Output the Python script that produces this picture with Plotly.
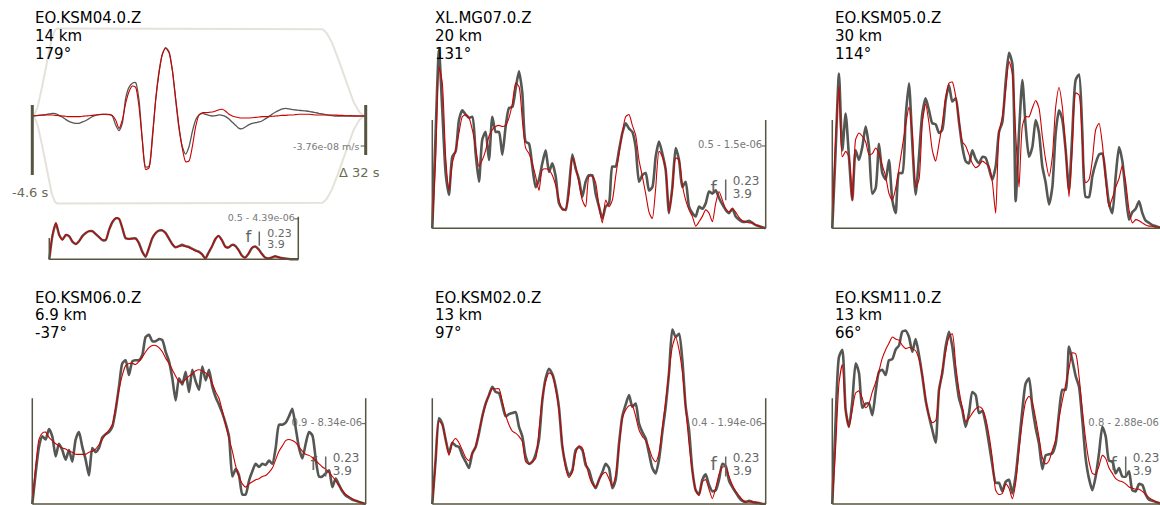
import numpy as np
import plotly.graph_objects as go

W, H = 1160, 505
FONT = "DejaVu Sans"

# ---------------------------------------------------------------- data
# fitted frequency band (Hz)
F_LO, F_HI = 0.23, 3.9

# station header lines
STATIONS = ["EO.KSM04.0.Z", "XL.MG07.0.Z", "EO.KSM05.0.Z",
            "EO.KSM06.0.Z", "EO.KSM02.0.Z", "EO.KSM11.0.Z"]
DISTANCES = ["14 km", "20 km", "30 km", "6.9 km", "13 km", "13 km"]
AZIMUTHS = ["179°", "131°", "114°", "-37°", "97°", "66°"]
# weight - normalisation labels (None: not shown)
NORM_LABELS = ["0.5 - 4.39e-06", "0.5 - 1.5e-06", None,
               "0.9 - 8.34e-06", "0.4 - 1.94e-06", "0.8 - 2.88e-06"]

# KSM04 time-domain window: start, duration (s), taper corners (s)
T_START, T_DUR = -4.6, 32.0
TAPER_CORNERS = [-4.6, -2.2, 23.0, 27.4]
TAPER_LEVEL = 10.96          # 1e-8 m/s
TRACE_TICK = -3.76           # 1e-8 m/s
BAR_LEFT = [1.38, -7.39]
BAR_RIGHT = [1.38, -4.89]

# KSM04 velocity traces (1e-8 m/s), evenly sampled over the window
ksm04_obs_trace = [
    0, 0.04, 0.08, 0.13, 0.17, 0.25, 0.33, 0.29, 0.08, -0.13,
    -0.42, -0.67, -0.84, -0.92, -0.92, -0.75, -0.59, -0.33, -0.08, 0.08,
    0.17, 0.21, 0.21, 0.17, 0.00, -1.13, -1.84, -0.92, 2.22, 3.59,
    4.10, 4.18, 2.01, -3.01, -6.40, -6.30, -2.59, 2.01, 5.56, 7.73,
    8.57, 8.07, 5.77, 2.01, -1.55, -3.85, -4.77, -3.85, -1.96, -0.50,
    0.13, 0.33, 0.21, 0.08, 0.00, 0.04, 0.13, 0.08, -0.08, -0.38,
    -0.79, -1.17, -1.55, -1.59, -1.34, -1.09, -0.92, -0.84, -0.75, -0.59,
    -0.33, -0.08, 0.25, 0.50, 0.71, 0.88, 0.96, 0.88, 0.79, 0.75,
    0.71, 0.67, 0.63, 0.59, 0.50, 0.42, 0.33, 0.25, 0.17, 0.08,
    0.04, 0, 0, 0, 0, 0, 0, 0, 0, 0, 0]
ksm04_syn_trace = [
    0, 0.04, 0.08, 0.10, 0.13, 0.13, 0.13, 0.08, 0.04, 0.00,
    -0.04, -0.08, -0.08, -0.08, -0.08, -0.04, 0.00, 0.04, 0.08, 0.13,
    0.17, 0.21, 0.21, 0.21, 0.08, -0.50, -1.55, -0.50, 1.59, 3.05,
    3.76, 3.59, 1.17, -3.01, -6.70, -6.50, -3.01, 2.01, 5.35, 7.73,
    8.49, 7.94, 5.77, 2.22, -1.34, -4.06, -5.73, -5.64, -3.85, -1.34,
    0.13, 0.42, 0.42, 0.46, 0.50, 0.63, 0.79, 0.84, 0.59, 0.21,
    0.00, -0.13, -0.21, -0.25, -0.25, -0.25, -0.21, -0.17, -0.13, -0.08,
    -0.08, -0.04, -0.04, 0.00, 0.04, 0.08, 0.08, 0.13, 0.13, 0.17,
    0.21, 0.21, 0.21, 0.21, 0.17, 0.13, 0.13, 0.13, 0.13, 0.13,
    0.13, 0.13, 0.08, 0.08, 0.04, 0.04, 0.04, 0.00, 0, 0, 0]

# amplitude spectra (normalised), evenly sampled over F_LO..F_HI
ksm04_obs_spec = [
    0, 0.57, 0.84, 0.57, 0.47, 0.57, 0.54, 0.41, 0.36, 0.43,
    0.55, 0.62, 0.66, 0.66, 0.59, 0.52, 0.45, 0.45, 0.69, 0.87,
    0.96, 0.95, 0.73, 0.49, 0.48, 0.49, 0.49, 0.38, 0.18, 0.06,
    0.26, 0.49, 0.61, 0.67, 0.68, 0.62, 0.49, 0.36, 0.28, 0.31,
    0.34, 0.31, 0.29, 0.25, 0.21, 0.18, 0.12, 0.02, 0.16, 0.30,
    0.47, 0.55, 0.45, 0.30, 0.28, 0.34, 0.32, 0.22, 0.09, 0.04,
    0.13, 0.26, 0.30, 0.24, 0.13, 0.04, 0.02, 0.04, 0.07, 0.05,
    0.03, 0.02, 0.01, 0.00, 0.00, 0]
ksm04_syn_spec = [
    0, 0.60, 0.86, 0.56, 0.45, 0.58, 0.55, 0.42, 0.36, 0.42,
    0.54, 0.62, 0.66, 0.65, 0.59, 0.52, 0.46, 0.46, 0.69, 0.88,
    0.97, 0.95, 0.74, 0.50, 0.48, 0.48, 0.48, 0.37, 0.17, 0.07,
    0.27, 0.50, 0.62, 0.68, 0.68, 0.62, 0.49, 0.36, 0.29, 0.30,
    0.32, 0.30, 0.28, 0.24, 0.20, 0.17, 0.11, 0.02, 0.16, 0.31,
    0.48, 0.55, 0.44, 0.29, 0.27, 0.33, 0.31, 0.21, 0.08, 0.04,
    0.14, 0.27, 0.30, 0.23, 0.12, 0.04, 0.02, 0.05, 0.07, 0.05,
    0.03, 0.02, 0.01, 0.00, 0.00, 0]

mg07_obs = [
    0, 0.88, 1.65, 1.09, 0.51, 0.31, 0.66, 0.71, 1.00, 1.09,
    1.05, 1.02, 1.03, 0.69, 0.43, 0.82, 0.89, 0.63, 1.03, 0.89,
    0.89, 0.68, 0.94, 1.11, 1.12, 1.29, 1.45, 1.25, 0.80, 0.78,
    0.57, 0.38, 0.45, 0.60, 0.72, 0.52, 0.60, 0.48, 0.23, 0.18,
    0.17, 0.38, 0.68, 0.55, 0.45, 0.29, 0.43, 0.49, 0.49, 0.32,
    0.20, 0.09, 0.20, 0.23, 0.57, 0.57, 0.72, 0.88, 0.97, 0.92,
    0.89, 0.75, 0.43, 0.49, 0.51, 0.35, 0.38, 0.66, 0.80, 0.69,
    0.54, 0.14, 0.38, 0.74, 0.63, 0.38, 0.43, 0.20, 0.14, 0.11,
    0.20, 0.18, 0.23, 0.34, 0.32, 0.35, 0.28, 0.22, 0.17, 0.14,
    0.18, 0.11, 0.08, 0.06, 0.06, 0.07, 0.05, 0.03, 0.02, 0.01, 0]
mg07_syn = [
    0, 0.63, 1.49, 1.34, 0.66, 0.35, 0.60, 0.72, 0.88, 1.03,
    1.05, 1.02, 0.91, 0.75, 0.57, 0.63, 0.72, 0.85, 0.91, 0.94,
    0.95, 0.94, 0.95, 1.02, 1.15, 1.34, 1.31, 1.00, 0.74, 0.69,
    0.60, 0.48, 0.35, 0.54, 0.55, 0.54, 0.49, 0.40, 0.26, 0.17,
    0.18, 0.32, 0.65, 0.57, 0.42, 0.26, 0.20, 0.48, 0.48, 0.42,
    0.20, 0.05, 0.26, 0.20, 0.26, 0.48, 0.69, 0.88, 1.03, 1.05,
    0.95, 0.86, 0.63, 0.48, 0.32, 0.15, 0.09, 0.37, 0.71, 0.66,
    0.55, 0.15, 0.35, 0.65, 0.63, 0.40, 0.26, 0.17, 0.11, 0.02,
    0.06, 0.11, 0.17, 0.14, 0.06, 0.23, 0.34, 0.26, 0.18, 0.15,
    0.18, 0.15, 0.10, 0.07, 0.06, 0.05, 0.05, 0.03, 0.02, 0.01, 0]

ksm05_obs = [
    0, 0.72, 1.43, 0.72, 1.06, 0.66, 0.26, 0.72, 0.63, 0.75,
    0.94, 0.75, 0.32, 0.37, 0.78, 0.51, 0.45, 0.63, 0.26, 0.14,
    0.51, 0.51, 1.03, 1.34, 0.78, 0.31, 0.66, 1.06, 1.20, 1.09,
    0.97, 0.96, 0.88, 0.91, 1.18, 1.32, 1.17, 1.20, 0.98, 0.75,
    0.62, 0.60, 0.72, 0.64, 0.60, 0.66, 0.65, 0.55, 0.45, 0.57,
    0.89, 0.98, 1.35, 1.62, 1.52, 0.25, 0.88, 1.37, 0.94, 0.66,
    0.75, 1.00, 0.88, 0.57, 0.42, 0.22, 0.38, 0.88, 1.09, 1.00,
    0.72, 0.35, 0.88, 1.37, 1.42, 0.88, 0.29, 0.29, 0.48, 0.60,
    0.68, 0.69, 0.48, 0.23, 0.14, 0.48, 0.75, 0.62, 0.32, 0.08,
    0.15, 0.18, 0.25, 0.14, 0.07, 0.05, 0.03, 0.02, 0.01, 0.00, 0]
ksm05_syn = [
    0, 0.82, 1.31, 0.66, 0.71, 0.66, 0.26, 0.82, 0.88, 0.85,
    0.80, 0.68, 0.69, 0.74, 0.69, 0.58, 0.48, 0.32, 0.26, 0.37,
    0.55, 0.75, 0.95, 1.12, 0.88, 0.38, 0.45, 0.97, 1.15, 0.97,
    0.72, 0.62, 0.78, 0.97, 1.20, 1.34, 1.35, 1.22, 1.00, 0.80,
    0.76, 0.68, 0.60, 0.56, 0.58, 0.62, 0.60, 0.57, 0.43, 0.14,
    0.88, 1.03, 1.28, 1.54, 1.43, 0.88, 0.38, 0.94, 1.03, 1.03,
    1.11, 1.18, 1.11, 0.85, 0.63, 0.48, 0.66, 1.12, 1.30, 1.12,
    0.72, 0.29, 0.75, 1.25, 1.23, 0.78, 0.42, 0.45, 0.63, 0.91,
    0.97, 0.78, 0.45, 0.20, 0.28, 0.38, 0.46, 0.58, 0.43, 0.17,
    0.05, 0.08, 0.07, 0.05, 0.03, 0.02, 0.02, 0.01, 0.01, 0.00, 0]

ksm06_obs = [
    0, 0.29, 0.54, 0.64, 0.61, 0.71, 0.64, 0.45, 0.57, 0.51,
    0.42, 0.51, 0.40, 0.61, 0.68, 0.54, 0.42, 0.27, 0.53, 0.49,
    0.53, 0.63, 0.66, 0.68, 0.73, 0.89, 1.11, 1.33, 1.36, 1.22,
    1.35, 1.36, 1.36, 1.41, 1.58, 1.60, 1.54, 1.54, 1.56, 1.55,
    1.44, 1.35, 1.19, 0.98, 1.19, 1.13, 1.25, 1.06, 1.27, 1.16,
    1.08, 1.30, 1.17, 1.27, 1.11, 1.01, 0.94, 0.86, 0.76, 0.64,
    0.26, 0.33, 0.27, 0.09, 0.09, 0.22, 0.31, 0.38, 0.35, 0.38,
    0.37, 0.41, 0.38, 0.53, 0.75, 0.75, 0.77, 0.83, 0.90, 0.72,
    0.53, 0.43, 0.57, 0.68, 0.65, 0.43, 0.26, 0.26, 0.29, 0.32,
    0.16, 0.24, 0.18, 0.12, 0.08, 0.06, 0.04, 0.03, 0.02, 0.01, 0]
ksm06_syn = [
    0, 0.35, 0.61, 0.67, 0.68, 0.63, 0.60, 0.57, 0.55, 0.53,
    0.52, 0.50, 0.49, 0.47, 0.47, 0.47, 0.47, 0.49, 0.50, 0.52,
    0.56, 0.61, 0.66, 0.70, 0.75, 0.91, 1.08, 1.22, 1.31, 1.33,
    1.33, 1.32, 1.35, 1.39, 1.44, 1.48, 1.50, 1.50, 1.48, 1.44,
    1.38, 1.33, 1.27, 1.21, 1.16, 1.15, 1.18, 1.21, 1.23, 1.26,
    1.27, 1.26, 1.24, 1.21, 1.14, 1.06, 1.00, 0.88, 0.75, 0.62,
    0.50, 0.36, 0.26, 0.19, 0.16, 0.19, 0.21, 0.23, 0.24, 0.26,
    0.27, 0.30, 0.34, 0.42, 0.50, 0.55, 0.60, 0.61, 0.60, 0.58,
    0.54, 0.50, 0.47, 0.46, 0.44, 0.41, 0.38, 0.35, 0.33, 0.30,
    0.26, 0.22, 0.17, 0.13, 0.09, 0.07, 0.05, 0.03, 0.02, 0.01, 0]

ksm02_obs = [
    0, 0.42, 0.81, 0.76, 0.61, 0.48, 0.58, 0.55, 0.54, 0.46,
    0.40, 0.34, 0.48, 0.54, 0.67, 0.83, 0.95, 1.03, 1.11, 1.06,
    1.05, 0.94, 0.83, 0.85, 0.86, 0.87, 0.73, 0.64, 0.45, 0.38,
    0.40, 0.47, 0.61, 0.98, 1.19, 1.28, 1.23, 1.11, 0.91, 0.54,
    0.37, 0.27, 0.32, 0.51, 0.54, 0.51, 0.37, 0.32, 0.21, 0.15,
    0.23, 0.30, 0.38, 0.34, 0.15, 0.23, 0.57, 0.83, 0.94, 1.03,
    0.92, 0.95, 0.76, 0.68, 0.62, 0.48, 0.34, 0.29, 0.42, 0.68,
    0.92, 1.24, 1.65, 1.58, 1.61, 1.36, 0.92, 0.70, 0.32, 0.13,
    0.09, 0.23, 0.28, 0.18, 0.12, 0.13, 0.23, 0.38, 0.36, 0.22,
    0.16, 0.11, 0.06, 0.03, 0.02, 0.03, 0.02, 0.01, 0.01, 0.00, 0]
ksm02_syn = [
    0, 0.40, 0.78, 0.75, 0.61, 0.46, 0.58, 0.62, 0.58, 0.51,
    0.44, 0.41, 0.48, 0.54, 0.69, 0.82, 0.94, 1.03, 1.09, 1.09,
    1.09, 0.97, 0.84, 0.75, 0.69, 0.67, 0.64, 0.59, 0.40, 0.38,
    0.40, 0.43, 0.70, 1.00, 1.16, 1.24, 1.22, 1.09, 0.89, 0.57,
    0.34, 0.25, 0.30, 0.48, 0.55, 0.53, 0.40, 0.27, 0.19, 0.16,
    0.23, 0.28, 0.30, 0.24, 0.17, 0.27, 0.54, 0.81, 0.89, 0.93,
    0.93, 0.83, 0.70, 0.64, 0.60, 0.53, 0.44, 0.40, 0.48, 0.72,
    0.97, 1.25, 1.49, 1.58, 1.46, 1.25, 0.92, 0.57, 0.31, 0.13,
    0.08, 0.21, 0.23, 0.14, 0.05, 0.15, 0.28, 0.35, 0.35, 0.26,
    0.18, 0.12, 0.08, 0.04, 0.02, 0.02, 0.02, 0.02, 0.01, 0.00, 0]

ksm11_obs = [
    0, 0.79, 1.39, 1.46, 0.89, 0.73, 0.97, 1.33, 1.24, 0.91,
    0.95, 0.95, 0.84, 1.06, 1.25, 1.27, 1.22, 1.36, 1.37, 1.46,
    1.50, 1.63, 1.64, 1.58, 1.44, 1.56, 1.41, 1.21, 0.98, 0.83,
    0.70, 0.58, 1.08, 1.24, 1.49, 1.63, 1.49, 1.22, 1.00, 0.89,
    0.73, 0.86, 1.06, 1.03, 0.86, 0.88, 0.76, 0.57, 0.37, 0.20,
    0.20, 0.12, 0.21, 0.23, 0.10, 0.27, 0.57, 0.89, 1.14, 1.19,
    0.92, 0.72, 0.57, 0.33, 0.46, 0.47, 0.48, 0.57, 0.86, 1.08,
    1.08, 1.49, 1.36, 1.21, 1.11, 0.79, 0.43, 0.24, 0.13, 0.26,
    0.48, 0.73, 0.64, 0.41, 0.40, 0.29, 0.34, 0.26, 0.26, 0.31,
    0.13, 0.12, 0.19, 0.18, 0.09, 0.04, 0.03, 0.02, 0.01, 0.00, 0]
ksm11_syn = [
    0, 0.53, 1.14, 1.32, 0.89, 0.73, 0.89, 1.05, 1.07, 1.00,
    0.91, 0.95, 1.06, 1.15, 1.26, 1.38, 1.46, 1.52, 1.58, 1.56,
    1.55, 1.50, 1.47, 1.48, 1.47, 1.45, 1.37, 1.22, 1.00, 0.83,
    0.77, 0.79, 1.05, 1.27, 1.44, 1.58, 1.61, 1.32, 1.08, 0.91,
    0.78, 0.81, 0.86, 0.90, 0.92, 0.90, 0.81, 0.65, 0.43, 0.13,
    0.09, 0.10, 0.19, 0.15, 0.05, 0.20, 0.51, 0.78, 0.97, 1.02,
    0.96, 0.81, 0.63, 0.44, 0.38, 0.41, 0.51, 0.61, 0.81, 0.98,
    1.13, 1.28, 1.43, 1.42, 1.21, 0.89, 0.61, 0.40, 0.29, 0.28,
    0.36, 0.46, 0.43, 0.34, 0.29, 0.24, 0.22, 0.21, 0.19, 0.16,
    0.15, 0.14, 0.14, 0.12, 0.09, 0.06, 0.04, 0.02, 0.01, 0.00, 0]

# ---------------------------------------------------------------- style
C_OBS = "#555753"
C_SYN = "#cc0000"
C_AXIS = "#57553f"
C_TAPER = "#e4e2db"
C_LABEL = "#777777"
C_BAND = "#666666"
C_TIME = "#6b6a55"

# panel geometry in pixels: left edge, width, baseline, pixels per unit
PANEL_W = 333.4
SPEC_PANELS = [
    # key, data obs, data syn, left, baseline, unit, station index
    ("mg07", mg07_obs, mg07_syn, 432.3, 228.3, 108.3, 1),
    ("ksm05", ksm05_obs, ksm05_syn, 832.3, 228.3, 108.3, 2),
    ("ksm06", ksm06_obs, ksm06_syn, 32.3, 504.0, 105.7, 3),
    ("ksm02", ksm02_obs, ksm02_syn, 432.3, 504.0, 105.7, 4),
    ("ksm11", ksm11_obs, ksm11_syn, 832.3, 504.0, 105.7, 5),
]

fig = go.Figure()
layout = dict(
    width=W, height=H, margin=dict(l=0, r=0, t=0, b=0),
    paper_bgcolor="white", plot_bgcolor="rgba(0,0,0,0)",
    showlegend=False, font=dict(family=FONT),
)
shapes = []
annotations = []


def axis_names(i):
    return ("x" if i == 1 else f"x{i}"), ("y" if i == 1 else f"y{i}")


def set_axes(i, px0, px1, v0, v1, dom_x, base, unit, dom_y):
    """Linear pixel mapping: px0->v0, px1->v1 (x); baseline->0 with unit px/value (y)."""
    sx = (v1 - v0) / (px1 - px0)
    xr = [v0 + (dom_x[0] - px0) * sx, v0 + (dom_x[1] - px0) * sx]
    yr = [(base - dom_y[1]) / unit, (base - dom_y[0]) / unit]
    xa, ya = axis_names(i)
    common = dict(visible=False, fixedrange=True, showgrid=False, zeroline=False)
    layout["xaxis" if i == 1 else f"xaxis{i}"] = dict(
        domain=[dom_x[0] / W, dom_x[1] / W], range=xr, anchor=ya, **common)
    layout["yaxis" if i == 1 else f"yaxis{i}"] = dict(
        domain=[1 - dom_y[1] / H, 1 - dom_y[0] / H], range=yr, anchor=xa, **common)
    return sx


def vline(xa, ya, x, y0, y1, color, width):
    shapes.append(dict(type="line", xref=xa, yref=ya, x0=x, x1=x, y0=y0, y1=y1,
                       line=dict(color=color, width=width), layer="above"))


def hline(xa, ya, x0, x1, y, color, width):
    shapes.append(dict(type="line", xref=xa, yref=ya, x0=x0, x1=x1, y0=y, y1=y,
                       line=dict(color=color, width=width), layer="above"))


def text_trace(xa, ya, x, y, s, size, color, pos):
    fig.add_trace(go.Scatter(x=[x], y=[y], mode="text", text=[s], textposition=pos,
                             textfont=dict(family=FONT, size=size, color=color),
                             cliponaxis=False, hoverinfo="skip", xaxis=xa, yaxis=ya))


def spectrum_panel(i, obs, syn, left, width, base, unit, label, lab_val,
                   left_top, style):
    right = left + width
    dom_x = (max(0.0, left - 6), min(W, right + 6))
    dom_y = (max(0.0, base - 2.05 * unit), min(H, base + 4))
    sx = set_axes(i, left, right, F_LO, F_HI, dom_x, base, unit, dom_y)
    xa, ya = axis_names(i)
    # labels first so the curves are drawn over them
    if label is not None:
        # keep the right-aligned label inside the page
        lab_px = min(right - style["lab_dx"], W - 1.0)
        text_trace(xa, ya, F_LO + (lab_px - left) * sx, lab_val, label,
                   style["lab_size"], C_LABEL, "middle left")
        hline(xa, ya, F_HI - 4 * sx, F_HI, lab_val, C_AXIS, 1)
        text_trace(xa, ya, F_HI - style["f_dx"] * sx, style["f_y"], "f",
                   style["f_size"], C_BAND, "middle center")
        vline(xa, ya, F_HI - style["bar_dx"] * sx, style["bar"][0], style["bar"][1],
              C_BAND, 1.5)
        by0 = style["band_y"] + style["band_gap"] / unit / 2
        by1 = style["band_y"] - style["band_gap"] / unit / 2
        text_trace(xa, ya, F_HI - style["band_dx"] * sx, by0,
                   f"{F_LO:g}", style["band_size"], C_BAND, "middle right")
        text_trace(xa, ya, F_HI - style["band_dx"] * sx, by1,
                   f"{F_HI:g}", style["band_size"], C_BAND, "middle right")
    f_obs = np.linspace(F_LO, F_HI, len(obs))
    f_syn = np.linspace(F_LO, F_HI, len(syn))
    fig.add_trace(go.Scatter(x=f_obs, y=obs, mode="lines", xaxis=xa, yaxis=ya,
                             line=dict(color=C_OBS, width=style["obs_w"], shape="spline",
                                       smoothing=0.6), hoverinfo="skip"))
    fig.add_trace(go.Scatter(x=f_syn, y=syn, mode="lines", xaxis=xa, yaxis=ya,
                             line=dict(color=C_SYN, width=1.1, shape="spline",
                                       smoothing=0.6), hoverinfo="skip"))
    hline(xa, ya, F_LO, F_HI, 0, C_AXIS, 1.5)
    vline(xa, ya, F_LO, 0, left_top, C_AXIS, 1.5)
    if label is not None:
        vline(xa, ya, F_HI, 0, style["right_top"], C_AXIS, 1.5)


# band_gap: vertical spacing (px) between the two band-limit labels
BIG = dict(lab_dx=3.5, lab_size=10, f_dx=52, f_y=0.36, f_size=18, bar_dx=40,
           bar=(0.26, 0.45), band_dx=33, band_y=0.365, band_gap=12.6, band_size=12,
           obs_w=2.6, right_top=1.0)
SMALL = dict(lab_dx=3.5, lab_size=9.5, f_dx=50, f_y=0.50, f_size=16.5, bar_dx=39,
             bar=(0.32, 0.65), band_dx=31, band_y=0.46, band_gap=11.6, band_size=11,
             obs_w=2.4, right_top=1.0)

# ---------------------------------------------------------------- KSM04 time trace
T_END = T_START + T_DUR
TX0, TX1, TBASE, TUNIT = 32.3, 365.7, 116.0, 7.98
set_axes(1, TX0, TX1, T_START, T_END, (TX0 - 6, TX1 + 6), TBASE, TUNIT, (18.0, 214.0))

# cosine taper of the fitted time window
tt = np.linspace(TAPER_CORNERS[0], TAPER_CORNERS[3], 400)
taper = np.ones_like(tt)
a, b, c, d = TAPER_CORNERS
rise = tt < b
fall = tt > c
taper[rise] = 0.5 - 0.5 * np.cos(np.pi * (tt[rise] - a) / (b - a))
taper[fall] = 0.5 + 0.5 * np.cos(np.pi * (tt[fall] - c) / (d - c))
for sgn in (1, -1):
    fig.add_trace(go.Scatter(x=tt, y=sgn * TAPER_LEVEL * taper, mode="lines",
                             line=dict(color=C_TAPER, width=2), hoverinfo="skip",
                             xaxis="x", yaxis="y"))

t_obs = np.linspace(T_START, T_END, len(ksm04_obs_trace))
t_syn = np.linspace(T_START, T_END, len(ksm04_syn_trace))
fig.add_trace(go.Scatter(x=t_obs, y=ksm04_obs_trace, mode="lines", xaxis="x", yaxis="y",
                         line=dict(color=C_OBS, width=1.3, shape="spline", smoothing=0.6),
                         hoverinfo="skip"))
fig.add_trace(go.Scatter(x=t_syn, y=ksm04_syn_trace, mode="lines", xaxis="x", yaxis="y",
                         line=dict(color=C_SYN, width=1.1, shape="spline", smoothing=0.6),
                         hoverinfo="skip"))
vline("x", "y", T_START, BAR_LEFT[0], BAR_LEFT[1], C_AXIS, 3)
vline("x", "y", T_END, BAR_RIGHT[0], BAR_RIGHT[1], C_AXIS, 3)
t_px = (T_END - T_START) / (TX1 - TX0)
hline("x", "y", T_END - 5 * t_px, T_END, TRACE_TICK, C_AXIS, 1)

annotations.append(dict(xref="paper", yref="paper", x=29.5 / W, y=1 - 192.5 / H,
                        text=f"{T_START:g} s", showarrow=False, xanchor="center",
                        yanchor="middle", font=dict(family=FONT, size=13, color=C_TIME)))
annotations.append(dict(xref="paper", yref="paper", x=359.5 / W, y=1 - 172.5 / H,
                        text=f"Δ {T_DUR:g} s", showarrow=False, xanchor="center",
                        yanchor="middle", font=dict(family=FONT, size=13, color=C_TIME)))
annotations.append(dict(xref="paper", yref="paper", x=360.5 / W, y=1 - 146.5 / H,
                        text=f"{TRACE_TICK:g}e-08 m/s", showarrow=False, xanchor="right",
                        yanchor="middle", font=dict(family=FONT, size=9.5, color=C_LABEL)))

# ---------------------------------------------------------------- spectra
spectrum_panel(2, ksm04_obs_spec, ksm04_syn_spec, 49.3, 249.0, 259.3, 42.6,
               NORM_LABELS[0], 0.95, 0.5, SMALL)
for k, (key, obs, syn, left, base, unit, si) in enumerate(SPEC_PANELS):
    spectrum_panel(3 + k, obs, syn, left, PANEL_W, base, unit,
                   NORM_LABELS[si], 0.76, 1.0, BIG)

# ---------------------------------------------------------------- station headers
HEAD_X = [33.0, 433.0, 833.0]
HEAD_Y = [18.3, 297.5]
for si in range(6):
    col, row = si % 3, si // 3
    for li, line in enumerate((STATIONS[si], DISTANCES[si], AZIMUTHS[si])):
        annotations.append(dict(
            xref="paper", yref="paper", x=HEAD_X[col] / W,
            y=1 - (HEAD_Y[row] + 17.8 * li) / H, text=line, showarrow=False,
            xanchor="left", yanchor="middle",
            font=dict(family=FONT, size=15, color="black")))

layout["shapes"] = shapes
layout["annotations"] = annotations
fig.update_layout(**layout)
fig.write_html("out.html")
